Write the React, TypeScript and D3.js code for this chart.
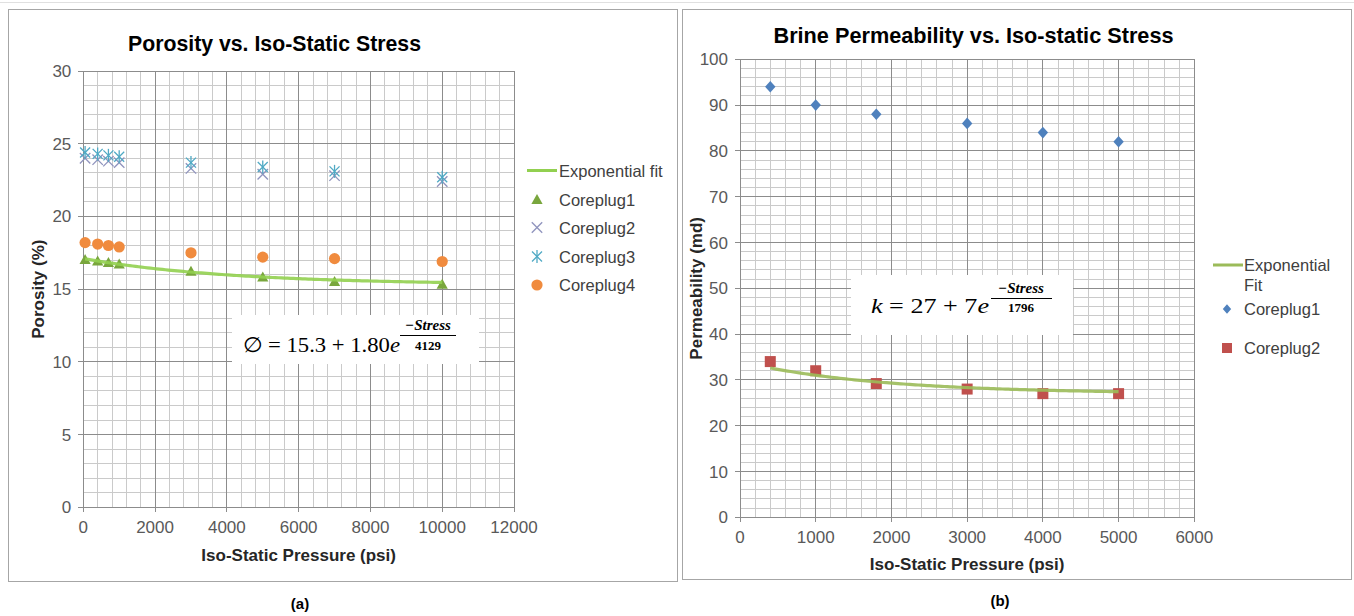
import React from "react";
import * as d3 from "d3";

// ---- Porosity panel data ----
const porosityStress = [50, 400, 700, 1000, 3000, 5000, 7000, 10000];
const coreplug1Porosity = [17.0, 16.9, 16.8, 16.7, 16.2, 15.8, 15.5, 15.3];
const coreplug2Porosity = [24.0, 23.9, 23.8, 23.7, 23.3, 22.9, 22.8, 22.4];
const coreplug3Porosity = [24.4, 24.3, 24.2, 24.1, 23.7, 23.4, 23.1, 22.7];
const coreplug4Porosity = [18.2, 18.1, 18.0, 17.9, 17.5, 17.2, 17.1, 16.9];
// exponential fit: base + amp * exp(-stress / decay)
const porosityFit = { base: 15.3, amp: 1.8, decay: 4129 };
const porosityXTicks = [0, 2000, 4000, 6000, 8000, 10000, 12000];
const porosityYTicks = [0, 5, 10, 15, 20, 25, 30];
const porosityLegend = ["Exponential fit", "Coreplug1", "Coreplug2", "Coreplug3", "Coreplug4"];

// ---- Permeability panel data ----
const permStress = [400, 1000, 1800, 3000, 4000, 5000];
const coreplug1Perm = [94, 90, 88, 86, 84, 82];
const coreplug2Perm = [34, 32, 29.2, 28, 27, 27];
const permFit = { base: 27, amp: 7, decay: 1796 };
const permXTicks = [0, 1000, 2000, 3000, 4000, 5000, 6000];
const permYTicks = [0, 10, 20, 30, 40, 50, 60, 70, 80, 90, 100];
const permLegend = ["Exponential", "Fit", "Coreplug1", "Coreplug2"];

const sans = "'Liberation Sans', Arial, sans-serif";
const narrow = "'Liberation Sans Narrow', 'Liberation Sans', Arial, sans-serif";
const serif = "'Liberation Serif', 'DejaVu Serif', serif";
const tickColor = "#595959";
const textColor = "#262626";

type Lin = d3.ScaleLinear<number, number>;

function Grid({ x, y, xTicks, yTicks, xMinor, yMinor }: { x: Lin; y: Lin; xTicks: number[]; yTicks: number[]; xMinor: number; yMinor: number }) {
  const [x0, x1] = x.domain();
  const [y0, y1] = y.domain();
  const xm = d3.range(x0, x1 + xMinor / 2, xMinor).filter((v) => !xTicks.includes(v));
  const ym = d3.range(y0, y1 + yMinor / 2, yMinor).filter((v) => !yTicks.includes(v));
  const [l, r] = x.range();
  const [b, t] = y.range();
  return (
    <g shapeRendering="crispEdges">
      {xm.map((v) => (
        <line key={"xm" + v} x1={x(v)} x2={x(v)} y1={t} y2={b} stroke="#cacaca" strokeWidth={1} />
      ))}
      {ym.map((v) => (
        <line key={"ym" + v} x1={l} x2={r} y1={y(v)} y2={y(v)} stroke="#cacaca" strokeWidth={1} />
      ))}
      {xTicks.map((v) => (
        <line key={"xM" + v} x1={x(v)} x2={x(v)} y1={t} y2={b + 5} stroke="#8c8c8c" strokeWidth={1} />
      ))}
      {yTicks.map((v) => (
        <line key={"yM" + v} x1={l - 5} x2={r} y1={y(v)} y2={y(v)} stroke="#8c8c8c" strokeWidth={1} />
      ))}
    </g>
  );
}

function Axes({ x, y, xTicks, yTicks, xLabelBase }: { x: Lin; y: Lin; xTicks: number[]; yTicks: number[]; xLabelBase: number }) {
  const l = x.range()[0];
  return (
    <g fontFamily={sans} fontSize={17} fill={tickColor}>
      {xTicks.map((v) => (
        <text key={"xt" + v} x={x(v)} y={xLabelBase} textAnchor="middle">
          {v}
        </text>
      ))}
      {yTicks.map((v) => (
        <text key={"yt" + v} x={l - 12} y={y(v) + 6} textAnchor="end">
          {v}
        </text>
      ))}
    </g>
  );
}

function fitPath(x: Lin, y: Lin, fit: { base: number; amp: number; decay: number }, from: number, to: number) {
  const n = 120;
  const pts = d3.range(n + 1).map((i) => from + ((to - from) * i) / n);
  const line = d3
    .line<number>()
    .x((s) => x(s))
    .y((s) => y(fit.base + fit.amp * Math.exp(-s / fit.decay)));
  return line(pts) || "";
}

const triangle = "M0,-6 L5.6,4 L-5.6,4 Z";
const diamond = "M0,-5.8 L5.2,0 L0,5.8 L-5.2,0 Z";

function XMark({ cx, cy, color }: { cx: number; cy: number; color: string }) {
  const s = 5.2;
  return (
    <g stroke={color} strokeWidth={1.3}>
      <line x1={cx - s} y1={cy - s} x2={cx + s} y2={cy + s} />
      <line x1={cx - s} y1={cy + s} x2={cx + s} y2={cy - s} />
    </g>
  );
}

function Asterisk({ cx, cy, color }: { cx: number; cy: number; color: string }) {
  const s = 5;
  return (
    <g stroke={color} strokeWidth={1.3}>
      <line x1={cx - s} y1={cy - s} x2={cx + s} y2={cy + s} />
      <line x1={cx - s} y1={cy + s} x2={cx + s} y2={cy - s} />
      <line x1={cx} y1={cy - 6.5} x2={cx} y2={cy + 6.5} />
    </g>
  );
}

function PorosityChart() {
  const x = d3.scaleLinear().domain([0, 12000]).range([83.3, 514]);
  const y = d3.scaleLinear().domain([0, 30]).range([507.3, 71]);
  const green = "#79a63d";
  const xColor = "#8f93bd";
  const aColor = "#4fa9c4";
  const orange = "#f08b3e";
  const fitColor = "#92d050";
  const legY = [170.5, 199.5, 227.5, 256.5, 285];
  return (
    <g>
      <rect x={8.5} y={9.5} width={669} height={572} fill="#fff" stroke="#a6a6a6" />
      <text x={274.5} y={51} textAnchor="middle" fontFamily={narrow} fontWeight="bold" fontSize={22} fill="#000" textLength={293} lengthAdjust="spacingAndGlyphs">
        Porosity vs. Iso-Static Stress
      </text>
      <Grid x={x} y={y} xTicks={porosityXTicks} yTicks={porosityYTicks} xMinor={400} yMinor={1} />
      <Axes x={x} y={y} xTicks={porosityXTicks} yTicks={porosityYTicks} xLabelBase={533} />
      <text x={x(6000)} y={561} textAnchor="middle" fontFamily={sans} fontWeight="bold" fontSize={17} fill={textColor}>
        Iso-Static Pressure (psi)
      </text>
      <text transform={`translate(44,${y(15)}) rotate(-90)`} textAnchor="middle" fontFamily={sans} fontWeight="bold" fontSize={17} fill={textColor}>
        Porosity (%)
      </text>

      {/* equation box */}
      <rect x={232} y={315} width={247} height={49} fill="#fff" />
      <text x={243} y={351.5} fontFamily={serif} fontSize={21} fill="#000" textLength={157} lengthAdjust="spacingAndGlyphs">
        ∅ = 15.3 + 1.80<tspan fontStyle="italic">e</tspan>
      </text>
      <text x={428} y={330} textAnchor="middle" fontFamily={serif} fontStyle="italic" fontWeight="bold" fontSize={15} fill="#000">
        −Stress
      </text>
      <line x1={400} x2={456} y1={335.5} y2={335.5} stroke="#000" strokeWidth={1.2} />
      <text x={428} y={350} textAnchor="middle" fontFamily={serif} fontWeight="bold" fontSize={13} fill="#000">
        4129
      </text>

      {/* series */}
      {porosityStress.map((s, i) => (
        <XMark key={"c2" + i} cx={x(s)} cy={y(coreplug2Porosity[i])} color={xColor} />
      ))}
      {porosityStress.map((s, i) => (
        <Asterisk key={"c3" + i} cx={x(s)} cy={y(coreplug3Porosity[i])} color={aColor} />
      ))}
      {porosityStress.map((s, i) => (
        <circle key={"c4" + i} cx={x(s)} cy={y(coreplug4Porosity[i])} r={5.6} fill={orange} />
      ))}
      {porosityStress.map((s, i) => (
        <path key={"c1" + i} d={triangle} transform={`translate(${x(s)},${y(coreplug1Porosity[i])})`} fill={green} />
      ))}
      <path d={fitPath(x, y, porosityFit, porosityStress[0], porosityStress[porosityStress.length - 1])} fill="none" stroke={fitColor} strokeWidth={3.2} opacity={0.9} />

      {/* legend */}
      <g fontFamily={sans} fontSize={16.5} fill="#404040">
        <line x1={527} x2={557} y1={legY[0]} y2={legY[0]} stroke={fitColor} strokeWidth={3} />
        <path d={triangle} transform={`translate(537,${legY[1] + 0.5})`} fill={green} />
        <XMark cx={537} cy={legY[2]} color={xColor} />
        <Asterisk cx={537} cy={legY[3]} color={aColor} />
        <circle cx={537} cy={legY[4]} r={5.6} fill={orange} />
        {porosityLegend.map((t, i) => (
          <text key={t} x={559} y={legY[i] + 6}>
            {t}
          </text>
        ))}
      </g>
      <text x={300} y={609} textAnchor="middle" fontFamily={sans} fontWeight="bold" fontSize={15} fill="#000">
        (a)
      </text>
    </g>
  );
}

function PermeabilityChart() {
  const x = d3.scaleLinear().domain([0, 6000]).range([740, 1194.3]);
  const y = d3.scaleLinear().domain([0, 100]).range([517.3, 59.3]);
  const blue = "#4f81bd";
  const red = "#c0504d";
  const fitColor = "#9bbb59";
  return (
    <g>
      <rect x={682.5} y={9.5} width={669} height={570} fill="#fff" stroke="#a6a6a6" />
      <text x={973.5} y={43} textAnchor="middle" fontFamily={narrow} fontWeight="bold" fontSize={22} fill="#000" textLength={400} lengthAdjust="spacingAndGlyphs">
        Brine Permeability vs. Iso-static Stress
      </text>
      <Grid x={x} y={y} xTicks={permXTicks} yTicks={permYTicks} xMinor={200} yMinor={2} />
      <Axes x={x} y={y} xTicks={permXTicks} yTicks={permYTicks} xLabelBase={542.5} />
      <text x={x(3000)} y={570} textAnchor="middle" fontFamily={sans} fontWeight="bold" fontSize={17} fill={textColor}>
        Iso-Static Pressure (psi)
      </text>
      <text transform={`translate(702,${y(50)}) rotate(-90)`} textAnchor="middle" fontFamily={sans} fontWeight="bold" fontSize={17} fill={textColor}>
        Permeability (md)
      </text>

      {/* equation box */}
      <rect x={851} y={275} width={222} height={60} fill="#fff" />
      <text x={871} y={313} fontFamily={serif} fontSize={21} fill="#000" textLength={118} lengthAdjust="spacingAndGlyphs">
        <tspan fontStyle="italic">k</tspan> = 27 + 7<tspan fontStyle="italic">e</tspan>
      </text>
      <text x={1021} y={293} textAnchor="middle" fontFamily={serif} fontStyle="italic" fontWeight="bold" fontSize={15} fill="#000">
        −Stress
      </text>
      <line x1={991} x2={1052} y1={298.5} y2={298.5} stroke="#000" strokeWidth={1.2} />
      <text x={1021} y={312} textAnchor="middle" fontFamily={serif} fontWeight="bold" fontSize={13} fill="#000">
        1796
      </text>

      {/* series */}
      {permStress.map((s, i) => (
        <path key={"p1" + i} d={diamond} transform={`translate(${x(s)},${y(coreplug1Perm[i])})`} fill={blue} />
      ))}
      {permStress.map((s, i) => (
        <rect key={"p2" + i} x={x(s) - 5.5} y={y(coreplug2Perm[i]) - 5.5} width={11} height={11} fill={red} />
      ))}
      <path d={fitPath(x, y, permFit, permStress[0], permStress[permStress.length - 1])} fill="none" stroke={fitColor} strokeWidth={3.2} opacity={0.9} />

      {/* legend */}
      <g fontFamily={sans} fontSize={16.5} fill="#404040">
        <line x1={1213} x2={1243} y1={265} y2={265} stroke={fitColor} strokeWidth={3} />
        <text x={1244} y={271}>{permLegend[0]}</text>
        <text x={1244} y={291}>{permLegend[1]}</text>
        <path d={diamond} transform="translate(1227,309) scale(0.8)" fill={blue} />
        <text x={1244} y={315}>{permLegend[2]}</text>
        <rect x={1222} y={343} width={10} height={10} fill={red} />
        <text x={1244} y={354}>{permLegend[3]}</text>
      </g>
      <text x={1000} y={606} textAnchor="middle" fontFamily={sans} fontWeight="bold" fontSize={15} fill="#000">
        (b)
      </text>
    </g>
  );
}

export default function App() {
  return (
    <svg width={1354} height={616} style={{ position: "absolute", left: 0, top: 0, background: "#fff" }}>
      <rect x={0} y={0} width={1354} height={616} fill="#fff" />
      <line x1={0} x2={1354} y1={2.5} y2={2.5} stroke="#e0e0e0" />
      <PorosityChart />
      <PermeabilityChart />
    </svg>
  );
}
